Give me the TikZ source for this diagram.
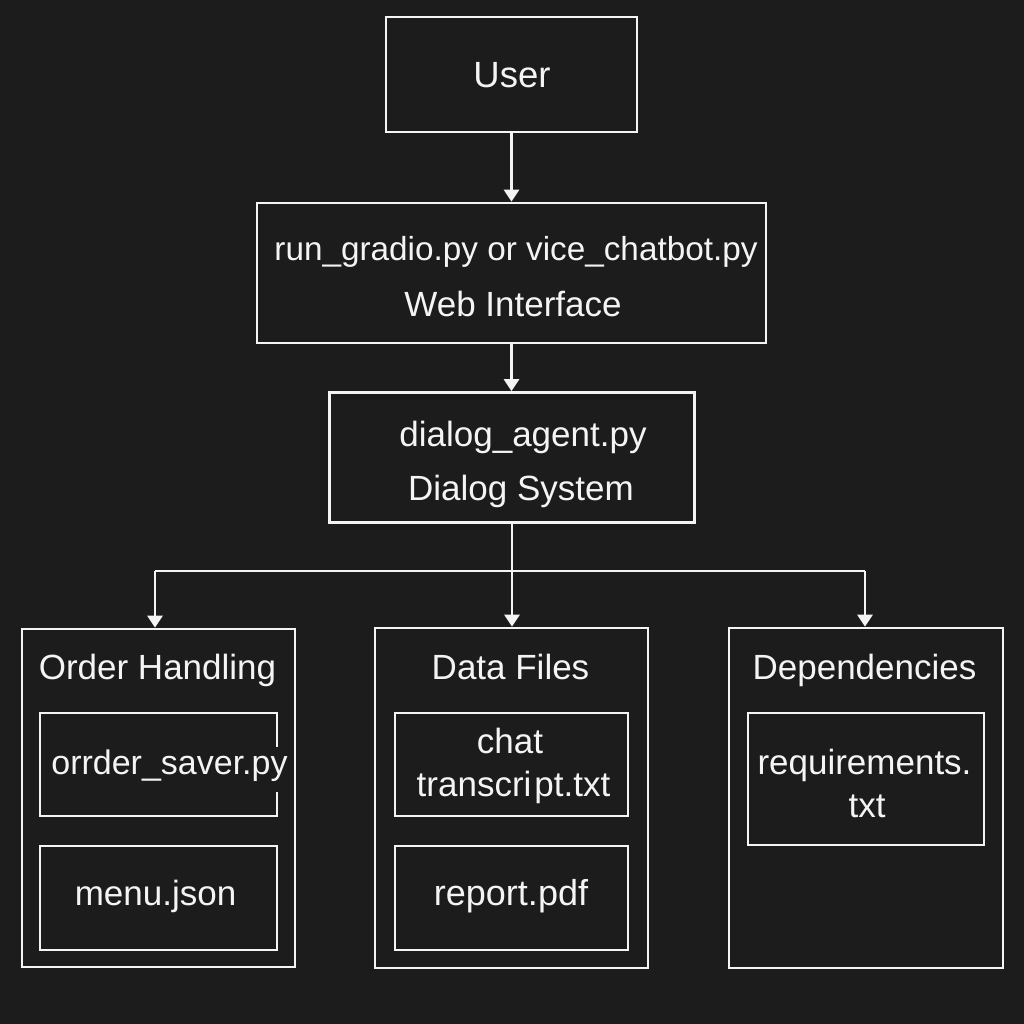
\documentclass[tikz,border=0pt]{standalone}
\usepackage{fontspec}
\setmainfont{Liberation Sans}
\usetikzlibrary{arrows.meta}
\definecolor{bg}{HTML}{1C1C1C}
\definecolor{fg}{HTML}{F4F4F4}
\begin{document}
\begin{tikzpicture}[x=1pt,y=-1pt,
  box/.style={draw=fg, line width=2.6pt, fill=bg, inner sep=0pt, rectangle},
  lbl/.style={text=fg, font=\fontsize{35}{42}\selectfont, inner sep=0pt, anchor=base},
  ttl/.style={lbl},
  wire/.style={draw=fg, line width=2.6pt},
  conn/.style={wire, -{Triangle[width=15pt,length=12pt]}}]
\fill[bg] (0,0) rectangle (1024,1024);
\useasboundingbox (0,0) rectangle (1024,1024);

% top boxes
\node[box, minimum width=251pt, minimum height=115pt] (user) at (511.5,74.5) {};
\node[box, minimum width=509pt, minimum height=140pt] (web) at (511.5,273) {};
\node[box, minimum width=365pt, minimum height=130pt] (dlg) at (512,457.5) {};

\node[lbl, font=\fontsize{36.5}{42}\selectfont] (tuser) at (512,88) {User};
\node[lbl, font=\fontsize{33.3}{40}\selectfont] (tweb1) at (516,260) {run\_gradio.py or vice\_chatbot.py};
\node[lbl] (tweb2) at (513,316) {Web Interface};
\node[lbl] (tdlg1) at (523,446) {dialog\_agent.py};
\node[lbl] (tdlg2) at (521,500) {Dialog System};

% bottom group boxes
\node[box, minimum width=273pt, minimum height=338pt] (oh) at (158.5,798) {};
\node[box, minimum width=273pt, minimum height=340pt] (df) at (511.5,798) {};
\node[box, minimum width=274pt, minimum height=340pt] (dep) at (866,798) {};

\node[ttl] (toh) at (157.5,679) {Order Handling};
\node[ttl] (tdf) at (510.5,679) {Data Files};
\node[ttl] (tdep) at (864.5,679) {Dependencies};

% inner boxes
\node[box, minimum width=237pt, minimum height=103pt] (os) at (158.5,764.5) {};
\node[box, minimum width=237pt, minimum height=104pt] (mj) at (158.5,898) {};
\node[box, minimum width=233pt, minimum height=103pt] (ct) at (511.5,764.5) {};
\node[box, minimum width=233pt, minimum height=104pt] (rp) at (511.5,898) {};
\node[box, minimum width=236pt, minimum height=132pt] (rq) at (866,779) {};

% gap in the right border of the order_saver box
\draw[bg, line width=5pt] (os.east |- 0,747) -- (os.east |- 0,792);

\node[lbl, font=\fontsize{34}{40}\selectfont] (tos) at (169.5,774) {orrder\_saver.py};
\node[lbl] (tmj) at (155.5,905) {menu.json};
\node[lbl] (tct1) at (510,753) {chat};
\node[lbl] (tct2) at (513.5,796) {transcri\hspace{3pt}pt.txt};
\node[lbl, font=\fontsize{36}{42}\selectfont] (trp) at (511,905) {report.pdf};
\node[lbl] (trq1) at (864.5,774) {requirements.};
\node[lbl] (trq2) at (867,817) {txt};

% connectors
\coordinate (j) at (512,571);
\coordinate (jl) at (155,571);
\coordinate (jr) at (865,571);
\draw[conn] (user.south) -- (web.north);
\draw[conn] (web.south) -- (web.south |- dlg.north);
\draw[wire] (dlg.south -| j) -- (j);
\draw[wire] (jl) -- (jr);
\draw[conn] (jl) -- (jl |- oh.north);
\draw[conn] (j) -- (j |- df.north);
\draw[conn] (jr) -- (jr |- dep.north);
\end{tikzpicture}
\end{document}
